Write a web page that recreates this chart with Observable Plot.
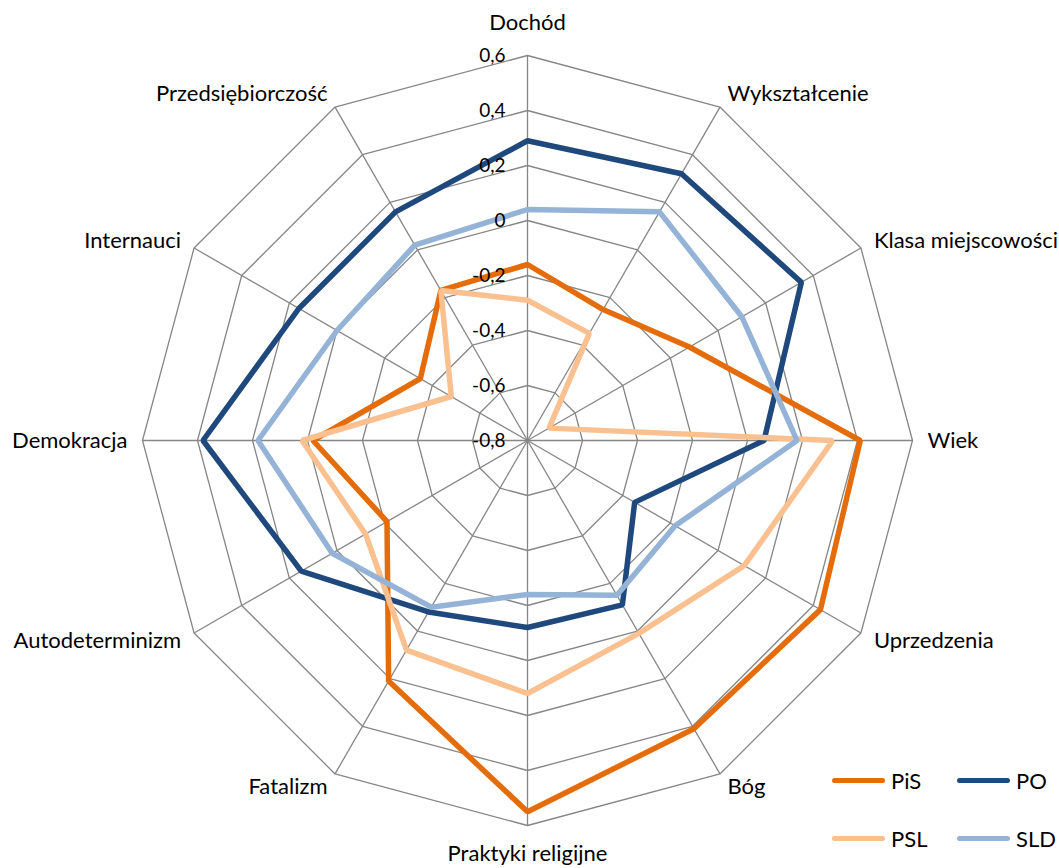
<!DOCTYPE html>
<html>
<head>
<meta charset="utf-8">
<script src="https://cdn.jsdelivr.net/npm/d3@7"></script>
<script src="https://cdn.jsdelivr.net/npm/@observablehq/plot@0.6"></script>
<style>
  html, body { margin: 0; padding: 0; background: #fff; }
  #wrap { position: relative; width: 1059px; height: 868px; font-family: Lato, "Liberation Sans", sans-serif; }
  #legend { position: absolute; left: 0; top: 0; width: 1059px; height: 868px; pointer-events: none; }
  .item { position: absolute; display: flex; align-items: center; font-size: 22px; color: #000; }
  .sw { width: 53px; height: 5px; border-radius: 3px; margin-right: 6px; }
</style>
</head>
<body>
<div id="wrap"><div id="legend"></div></div>
<script>
// ---- data ----
const categories = ["Dochód", "Wykształcenie", "Klasa miejscowości", "Wiek", "Uprzedzenia", "Bóg",
  "Praktyki religijne", "Fatalizm", "Autodeterminizm", "Demokracja", "Internauci", "Przedsiębiorczość"];
const PiS = [-0.16, -0.25, -0.12, 0.41, 0.43, 0.41, 0.55, 0.21, -0.21, -0.02, -0.35, -0.17];
const PO  = [0.29, 0.32, 0.35, 0.06, -0.35, -0.11, -0.12, -0.08, 0.15, 0.38, 0.16, 0.16];
const PSL = [-0.29, -0.35, -0.71, 0.31, 0.11, 0.01, 0.12, 0.08, -0.12, 0.02, -0.48, -0.17];
const SLD = [0.04, 0.16, 0.10, 0.18, -0.18, -0.15, -0.24, -0.10, 0.02, 0.18, 0.00, 0.02];
const seriesNames = ["PiS", "PO", "PSL", "SLD"];
const seriesColors = ["#E46C0A", "#1F497D", "#FAC090", "#95B3D7"];
const tickValues = [-0.8, -0.6, -0.4, -0.2, 0, 0.2, 0.4, 0.6];
const tickLabels = ["-0,8", "-0,6", "-0,4", "-0,2", "0", "0,2", "0,4", "0,6"];

// ---- geometry helpers ----
const vMin = -0.8, vMax = 0.6;
const R = vMax - vMin;
const W = 1059, H = 868, cx = 527, cy = 440, pxPerUnit = 275;
const n = categories.length;
const ang = i => (i * 2 * Math.PI) / n;
const pol = (i, r) => ({x: r * Math.sin(ang(i)), y: r * Math.cos(ang(i))});

const seriesData = [PiS, PO, PSL, SLD];
const lines = seriesNames.flatMap((s, k) => seriesData[k].map((v, i) => ({series: s, cat: categories[i], ...pol(i, v - vMin)})));
const rings = tickValues.slice(1).flatMap(t => categories.map((c, i) => ({t, ...pol(i, t - vMin)})));
const spokes = categories.map((c, i) => ({x1: 0, y1: 0, x2: pol(i, R).x, y2: pol(i, R).y}));
const ticks = tickValues.map((t, j) => ({label: tickLabels[j], x: 0, y: t - vMin}));
const labels = categories.map((c, i) => {
  const s = Math.sin(ang(i)), co = Math.cos(ang(i));
  const pad = (Math.abs(s) < 0.01 ? (co > 0 ? 33 : 28) : 15) / pxPerUnit;
  return {c, s, ...pol(i, R + pad)};
});

const chart = Plot.plot({
  width: W, height: H,
  margin: 0,
  x: {domain: [-cx / pxPerUnit, (W - cx) / pxPerUnit], axis: null},
  y: {domain: [-(H - cy) / pxPerUnit, cy / pxPerUnit], axis: null},
  color: {domain: seriesNames, range: seriesColors},
  style: {fontFamily: "Lato, 'Liberation Sans', sans-serif", background: "#fff"},
  marks: [
    Plot.link(spokes, {x1: "x1", y1: "y1", x2: "x2", y2: "y2", stroke: "#868686", strokeWidth: 1.3}),
    Plot.line(rings, {x: "x", y: "y", z: "t", curve: "linear-closed", stroke: "#868686", strokeWidth: 1.3}),
    Plot.line(lines, {x: "x", y: "y", z: "series", stroke: "series", curve: "linear-closed", strokeWidth: 5.5, strokeLinejoin: "miter"}),
    Plot.text(ticks, {x: "x", y: "y", text: "label", textAnchor: "end", dx: -22, fontSize: 19, fill: "#000"}),
    Plot.text(labels.filter(d => d.s > 0.01), {x: "x", y: "y", text: "c", textAnchor: "start", fontSize: 22, fill: "#000"}),
    Plot.text(labels.filter(d => d.s < -0.01), {x: "x", y: "y", text: "c", textAnchor: "end", fontSize: 22, fill: "#000"}),
    Plot.text(labels.filter(d => Math.abs(d.s) <= 0.01), {x: "x", y: "y", text: "c", textAnchor: "middle", fontSize: 22, fill: "#000"})
  ]
});
document.getElementById("wrap").prepend(chart);

// ---- legend ----
const legendPos = [[832, 780], [957, 780], [832, 838], [957, 838]];
const leg = document.getElementById("legend");
seriesNames.forEach((s, k) => {
  const it = document.createElement("div");
  it.className = "item";
  it.style.left = legendPos[k][0] + "px";
  it.style.top = (legendPos[k][1] - 15) + "px";
  it.style.height = "30px";
  it.innerHTML = `<div class="sw" style="background:${seriesColors[k]}"></div><span>${s}</span>`;
  leg.appendChild(it);
});
</script>
</body>
</html>
